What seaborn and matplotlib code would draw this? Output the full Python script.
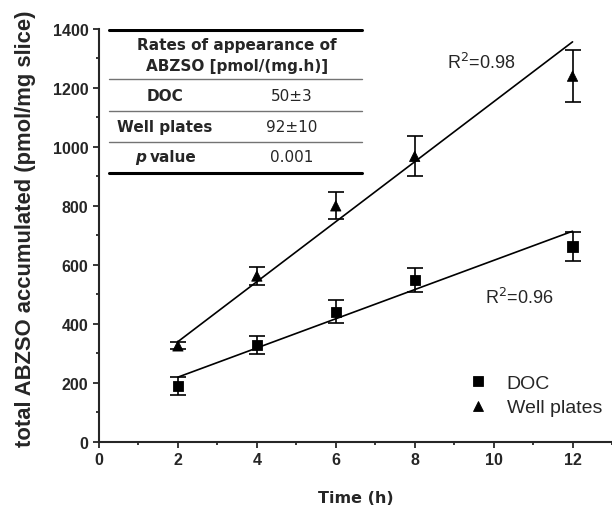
import numpy as np
import matplotlib
matplotlib.use('Agg')
import matplotlib.pyplot as plt
import pandas as pd
import seaborn as sns
from matplotlib.ticker import MultipleLocator

# data
time_h = [2, 4, 6, 8, 12]
doc_mean = [190, 328, 440, 548, 662]
doc_err = [30, 31, 39, 40, 49]
well_mean = [325, 562, 800, 968, 1240]
well_err = [12, 29, 46, 68, 88]

# fitted lines (slope, intercept) as drawn
doc_fit = (49.5, 120)
well_fit = (101.7, 136)
fit_range = [2, 12]
r2_labels = ['R$^2$=0.96', 'R$^2$=0.98']

table_rows = ['DOC', 'Well plates']
table_vals = ['50±3', '92±10']
p_text = '0.001'

sns.set_style('ticks')

df = pd.DataFrame({
    'Time': time_h * 2,
    'ABZSO': doc_mean + well_mean,
    'err': doc_err + well_err,
    'group': ['DOC'] * 5 + ['Well plates'] * 5,
})

fig = plt.figure(figsize=(6.12, 5.10), dpi=100)
ax = fig.add_axes([99 / 612, (510 - 442.7) / 510, 513 / 612, (442.7 - 30) / 510])

# fit lines
fx = np.array(fit_range)
fits = pd.DataFrame({
    'Time': list(fx) * 2,
    'fit': list(doc_fit[0] * fx + doc_fit[1]) + list(well_fit[0] * fx + well_fit[1]),
    'group': ['DOC'] * 2 + ['Well plates'] * 2,
})
sns.lineplot(data=fits, x='Time', y='fit', units='group', estimator=None,
             color='black', lw=1.2, ax=ax, legend=False)

# error bars
for g, sub in df.groupby('group'):
    ax.errorbar(sub['Time'], sub['ABZSO'], yerr=sub['err'], fmt='none',
                ecolor='black', elinewidth=1.2, capsize=5.5, capthick=1.2)

sns.scatterplot(data=df, x='Time', y='ABZSO', style='group',
                markers={'DOC': 's', 'Well plates': '^'},
                color='black', s=55, edgecolor='black', ax=ax, zorder=5)

ax.set_xlim(0, 13)
ax.set_ylim(0, 1400)
ax.xaxis.set_major_locator(MultipleLocator(2))
ax.xaxis.set_minor_locator(MultipleLocator(1))
ax.yaxis.set_major_locator(MultipleLocator(200))
ax.yaxis.set_minor_locator(MultipleLocator(100))
ax.set_xticks([0, 2, 4, 6, 8, 10, 12])
sns.despine(ax=ax)
for s in ['left', 'bottom']:
    ax.spines[s].set_linewidth(1.5)
ax.tick_params(which='major', direction='out', length=4, width=1.3, labelsize=11.5)
ax.tick_params(which='minor', direction='out', length=2.5, width=1.3)
for lab in ax.get_xticklabels() + ax.get_yticklabels():
    lab.set_fontweight('bold')
    lab.set_family('Liberation Sans')

ax.set_xlabel('Time (h)', fontsize=11.5, fontweight='bold')
ax.xaxis.set_label_coords(0.5, -0.118)
ax.set_ylabel('total ABZSO accumulated (pmol/mg slice)', fontsize=15.8,
              fontweight='bold', family='Liberation Sans')
ax.yaxis.set_label_coords(-0.122, 0.518)

# R^2 annotations
ax.text(9.77, 491, r2_labels[0], fontsize=13, family='Liberation Sans',
        ha='left', va='center')
ax.text(8.81, 1287, r2_labels[1], fontsize=13, family='Liberation Sans',
        ha='left', va='center')

# legend
handles, labels = ax.get_legend_handles_labels()
ax.legend(handles=handles, labels=labels, frameon=False, loc='center left',
          bbox_to_anchor=(0.70, 0.112), borderpad=0, handlelength=1.0,
          handletextpad=1.0, labelspacing=0.35,
          prop={'family': 'Liberation Sans', 'size': 14})

# table in the top left corner
x0, x1 = 0.0195, 0.513
ax.axhline(1396, xmin=x0, xmax=x1, color='black', lw=2.2)
ax.axhline(1231, xmin=x0, xmax=x1, color='0.45', lw=1)
ax.axhline(1122, xmin=x0, xmax=x1, color='0.45', lw=1)
ax.axhline(1017, xmin=x0, xmax=x1, color='0.45', lw=1)
ax.axhline(912, xmin=x0, xmax=x1, color='black', lw=2.2)

tfont = dict(fontsize=11, family='DejaVu Sans')
ax.text(3.5, 1348, 'Rates of appearance of', ha='center', va='center',
        fontweight='bold', **tfont)
ax.text(3.5, 1277, 'ABZSO [pmol/(mg.h)]', ha='center', va='center',
        fontweight='bold', **tfont)
row_y = [1176, 1068]
for lab, val, y in zip(table_rows, table_vals, row_y):
    ax.text(1.67, y, lab, ha='center', va='center', fontweight='bold', **tfont)
    ax.text(4.89, y, val, ha='center', va='center', **tfont)
ax.text(1.19, 966, 'p', ha='right', va='center', fontweight='bold',
        fontstyle='italic', **tfont)
ax.text(1.29, 966, 'value', ha='left', va='center', fontweight='bold', **tfont)
ax.text(4.89, 966, p_text, ha='center', va='center', **tfont)

plt.savefig('out.png', dpi=100)
